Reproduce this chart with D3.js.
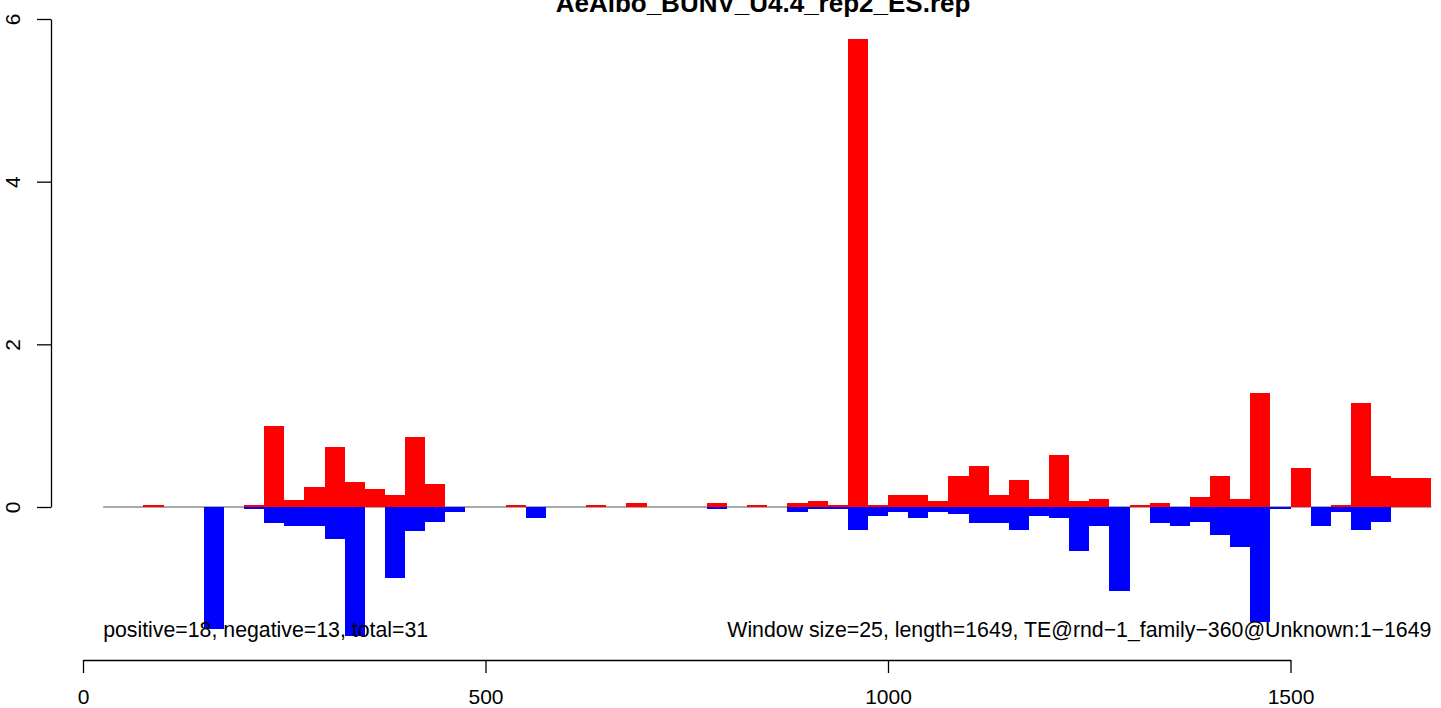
<!DOCTYPE html>
<html>
<head>
<meta charset="utf-8">
<script src="https://cdn.jsdelivr.net/npm/d3@7"></script>
<style>
  html, body { margin: 0; padding: 0; background: #fff; }
  svg { display: block; }
  text { font-family: "Liberation Sans", Arial, Helvetica, sans-serif; }
</style>
</head>
<body>
<script>
// ---- data ----
const title = "AeAlbo_BUNV_U4.4_rep2_ES.rep";
const leftNote = "positive=18, negative=13, total=31";
const rightNote = "Window size=25, length=1649, TE@rnd\u22121_family\u2212360@Unknown:1\u22121649";
const windowSize = 25;
const binStart = [25,50,75,100,125,150,175,200,225,250,275,300,325,350,375,400,425,450,475,500,
  525,550,575,600,625,650,675,700,725,750,775,800,825,850,875,900,925,950,975,1000,
  1025,1050,1075,1100,1125,1150,1175,1200,1225,1250,1275,1300,1325,1350,1375,1400,1425,1450,1475,1500,
  1525,1550,1575,1600,1625,1650];
const positive = [0,0,0.025,0,0,0,0,0.025,1.0,0.08,0.25,0.74,0.31,0.22,0.15,0.86,0.28,0,0,0,
  0.025,0,0,0,0.025,0,0.05,0,0,0,0.05,0,0.025,0,0.05,0.075,0.025,5.76,0.025,0.15,
  0.15,0.075,0.38,0.50,0.15,0.33,0.1,0.64,0.075,0.1,0,0.025,0.05,0,0.12,0.38,0.1,1.40,0,0.48,
  0,0.025,1.28,0.38,0.36,0.36];
const negative = [0,0,0,0,0,-1.5,0,-0.03,-0.2,-0.23,-0.23,-0.39,-1.58,0,-0.87,-0.30,-0.18,-0.06,0,0,
  0,-0.13,0,0,0,0,0,0,0,0,-0.03,0,0,0,-0.06,-0.03,-0.03,-0.28,-0.11,-0.06,
  -0.13,-0.06,-0.08,-0.2,-0.2,-0.28,-0.11,-0.13,-0.54,-0.23,-1.03,0,-0.2,-0.23,-0.18,-0.34,-0.49,-1.41,-0.03,0,
  -0.23,-0.06,-0.28,-0.18,0,0];
const xTicks = [0, 500, 1000, 1500];
const yTicks = [0, 2, 4, 6];

// ---- layout ----
const W = 1441, H = 708;
const svg = d3.select("body").append("svg").attr("width", W).attr("height", H);

const x = d3.scaleLinear().domain([0, 1500]).range([83, 1290.5]);
const y = d3.scaleLinear().domain([0, 6]).range([507, 19]);

// baseline
const first = binStart[0], last = binStart[binStart.length - 1] + windowSize;
svg.append("line")
  .attr("x1", x(first)).attr("x2", x(last))
  .attr("y1", y(0)).attr("y2", y(0))
  .attr("stroke", "#555").attr("stroke-width", 1);

const bars = binStart.map((s, i) => ({s, p: positive[i], n: negative[i]}));

svg.append("g").attr("shape-rendering", "crispEdges")
  .selectAll("rect.pos").data(bars.filter(d => d.p > 0)).join("rect")
  .attr("x", d => x(d.s)).attr("width", d => x(d.s + windowSize) - x(d.s))
  .attr("y", d => y(d.p)).attr("height", d => y(0) - y(d.p))
  .attr("fill", "#ff0000");

svg.append("g").attr("shape-rendering", "crispEdges")
  .selectAll("rect.neg").data(bars.filter(d => d.n < 0)).join("rect")
  .attr("x", d => x(d.s)).attr("width", d => x(d.s + windowSize) - x(d.s))
  .attr("y", y(0)).attr("height", d => y(d.n) - y(0))
  .attr("fill", "#0000ff");

// x axis
const xAxis = svg.append("g").attr("transform", "translate(0,660)")
  .call(d3.axisBottom(x).tickValues(xTicks).tickSize(13).tickSizeOuter(0).tickFormat(d3.format("d")));
xAxis.select(".domain").attr("stroke", "#000").attr("stroke-width", 1.3);
xAxis.selectAll(".tick line").attr("stroke", "#000").attr("stroke-width", 1.3);
xAxis.selectAll(".tick text").attr("y", 44).attr("dy", 0)
  .attr("font-size", 21).attr("fill", "#000").style("font-family", "Liberation Sans, Arial, sans-serif");

// y axis
const yAxis = svg.append("g").attr("transform", "translate(51,0)")
  .call(d3.axisLeft(y).tickValues(yTicks).tickSize(14).tickSizeOuter(0).tickFormat(d3.format("d")));
yAxis.select(".domain").attr("stroke", "#000").attr("stroke-width", 1.3);
yAxis.selectAll(".tick line").attr("stroke", "#000").attr("stroke-width", 1.3);
yAxis.selectAll(".tick text")
  .attr("x", null).attr("dy", null)
  .attr("text-anchor", "middle")
  .attr("transform", "translate(-31,0) rotate(-90)")
  .attr("font-size", 21).attr("fill", "#000").style("font-family", "Liberation Sans, Arial, sans-serif");

// title
svg.append("text").attr("x", 763).attr("y", 12).attr("text-anchor", "middle")
  .attr("font-size", 26).attr("font-weight", "bold").text(title);

// notes
svg.append("text").attr("x", x(first)).attr("y", 637).attr("font-size", 21.3).text(leftNote);
svg.append("text").attr("x", x(last)).attr("y", 637).attr("text-anchor", "end").attr("font-size", 21.3).text(rightNote);
</script>
</body>
</html>
